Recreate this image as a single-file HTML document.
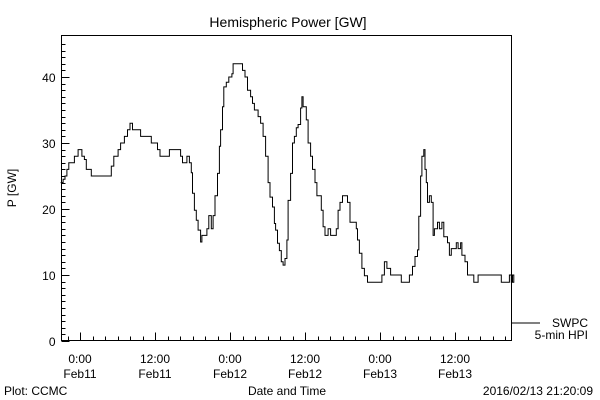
<!DOCTYPE html>
<html><head><meta charset="utf-8"><style>
body{margin:0;background:#fff}
svg{display:block;font-family:"Liberation Sans",sans-serif;font-size:12px}
</style></head><body>
<svg id="chart" width="600" height="400" viewBox="0 0 600 400">
<rect width="600" height="400" fill="#fff"/>
<text x="288" y="27" text-anchor="middle" font-size="14">Hemispheric Power [GW]</text>
<text transform="translate(16,188) rotate(-90)" text-anchor="middle">P [GW]</text>
<text x="287" y="395" text-anchor="middle">Date and Time</text>
<text x="4" y="395">Plot: CCMC</text>
<text x="593" y="395" text-anchor="end">2016/02/13 21:20:09</text>
<line x1="512" y1="323" x2="540" y2="323" stroke="#000"/>
<text x="588" y="327" text-anchor="end">SWPC</text>
<text x="588" y="339" text-anchor="end">5-min HPI</text>
<g id="axes"></g>
<path id="series" fill="none" stroke="#000" stroke-width="1"/>
<rect x="61.5" y="35.5" width="450" height="305" fill="none" stroke="#000"/>
</svg>
<script>
const hours=[-3.1,-2.7,-2.4,-2.1,-1.8,-0.9,-0.3,0.3,0.7,1.0,1.8,5.0,5.4,6.1,6.5,7.1,7.6,8.0,8.4,9.7,11.4,12.4,12.8,14.3,16.1,16.4,17.1,17.5,17.8,18.0,18.3,18.6,18.9,19.3,19.5,20.3,20.6,21.0,21.3,21.6,22.0,22.3,22.5,22.8,23.0,23.4,23.8,24.3,24.5,26.0,26.4,26.8,27.3,27.6,27.9,28.5,28.9,29.3,29.7,30.1,30.4,30.8,31.1,31.3,31.6,31.9,32.2,32.5,32.8,33.1,33.3,33.7,34.0,34.3,34.6,34.9,35.3,35.5,35.7,36.2,36.5,36.9,37.2,37.6,37.9,38.6,38.9,39.2,39.7,40.1,41.0,41.3,41.6,42.0,42.8,43.2,44.2,44.4,44.7,45.1,45.5,46.0,48.3,48.7,49.1,49.7,51.4,52.7,53.2,53.6,54.0,54.2,54.5,54.7,55.0,55.2,55.4,55.6,55.9,56.2,56.5,56.7,57.2,57.5,57.9,58.2,58.8,59.1,59.4,60.2,60.5,60.9,61.1,61.6,62.0,63.0,63.7,67.4,68.7,69.0,69.2,69.4];
const power=[24,24.5,25,26,27,28,29,28,27.5,26,25,26.5,28,29,30,31,32,33,32,31,30,29,28,29,28,27,28,27,25.5,22.4,19.8,18.3,16.8,15,16,17,19,17,19,22,25.4,29.5,32,35.5,38.5,39.2,40,40.5,42,41,40,38,37,36,35,34,33,31,28,24,21.8,20.3,17.8,16.8,14.8,13.7,12,11.5,12.5,15.3,21.3,25.4,30,31,32.3,32.8,35.3,37,35.5,33.5,30,28,26,24,22,19.8,17.3,16,17,16,17,19.8,21,22,21,18,17,15.3,13.3,11,9.9,8.9,10,12,11,10,8.9,10,11.3,12.8,13.8,18.9,25,28,29,26,24,21,22,21,16,17,18,17,18,15.8,14.9,13,14,14.9,14,14.9,13,12,10,8.9,10,8.9,10,8.9,10,8.9];
const yTickLabels=["0","10","20","30","40"];
const xTickHours=[0,12,24,36,48,60];
const xTickTimes=["0:00","12:00","0:00","12:00","0:00","12:00"];
const xTickDates=["Feb11","Feb11","Feb12","Feb12","Feb13","Feb13"];
const L=61.5,R=511.5,T=35.5,B=340.5;
const xs=h=>80+h*6.25;
const ys=v=>341-v*6.6;
const ns="http://www.w3.org/2000/svg";
const ax=document.getElementById('axes');
function ln(x1,y1,x2,y2,name){const e=document.createElementNS(ns,'line');e.setAttribute('x1',x1);e.setAttribute('y1',y1);e.setAttribute('x2',x2);e.setAttribute('y2',y2);e.setAttribute('stroke','#000');


ax.appendChild(e);}
function tx(x,y,s,anchor,name){const e=document.createElementNS(ns,'text');e.setAttribute('x',x);e.setAttribute('y',y);e.setAttribute('text-anchor',anchor);e.textContent=s;


ax.appendChild(e);}
for(let v=0;v<=45;v++){const y=Math.round(ys(v))+0.5;if(y<T)break;ln(L,y,L+(v%10===0?8:4),y,'y-tick');}
yTickLabels.forEach(s=>{const y=ys(+s);tx(L-6,y+5,s,'end','y-tick-label');});
for(let h=-2;h<=70;h+=2){const x=Math.round(xs(h))+0.5;if(x<=L||x>=R)continue;ln(x,B,x,B-(h%12===0?8:4),'x-tick');}
xTickHours.forEach((h,i)=>{const x=xs(h);tx(x,363,xTickTimes[i],'middle','x-tick-time');tx(x,378,xTickDates[i],'middle','x-tick-date');});
let d='';
hours.forEach((h,i)=>{const x=xs(h).toFixed(1),y=ys(power[i]).toFixed(1);
if(i===0)d+='M'+x+' '+y;else d+='H'+x+'V'+y;});
d+='H'+(R-0.5);
document.getElementById('series').setAttribute('d',d);
</script>
</body></html>
